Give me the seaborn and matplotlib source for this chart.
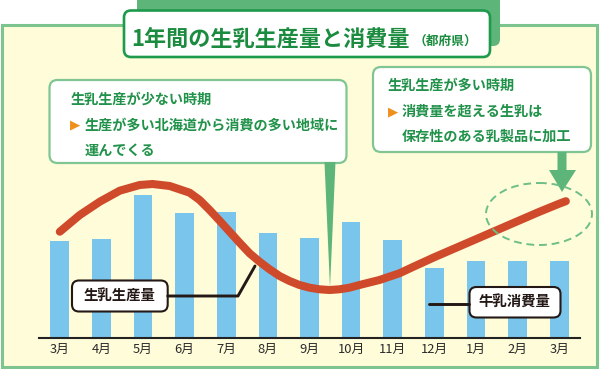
import pandas as pd
import seaborn as sns
import matplotlib.pyplot as plt
from matplotlib.patches import FancyBboxPatch, Rectangle, Ellipse, Polygon

# values (arbitrary units, no y axis in the original)
months = ["3月", "4月", "5月", "6月", "7月", "8月", "9月", "10月", "11月", "12月", "1月", "2月", "3月"]
consumption = [96.7, 99.0, 142.7, 124.3, 125.7, 104.7, 99.3, 115.3, 97.7, 69.7, 76.3, 76.3, 76.3]

# production curve, sampled along the drawn line (x = month position)
prod_x = [0, 0.48, 0.96, 1.44, 1.92, 2.23, 2.64, 3.12, 3.36, 3.6, 3.84, 4.08, 4.32, 4.56,
          4.8, 5.04, 5.28, 5.52, 5.76, 6.0, 6.24, 6.48, 6.72, 6.96, 7.2, 7.68, 8.16,
          8.5, 9, 9.5, 10, 10.5, 11, 11.5, 12, 12.16]
prod_y = [106, 122.7, 136, 147, 152.7, 153.7, 151.7, 145, 137.7, 127.7, 117, 106, 95, 84.4,
          76, 68.4, 61.7, 56.7, 52.7, 50, 48.4, 47.7, 48.4, 50, 52.7, 57.7, 64.4,
          71, 80.5, 89.5, 98.5, 107.5, 116.5, 125.5, 134, 136.5]

title = "1年間の生乳生産量と消費量"
title_sub = "（都府県）"
left_note = ["生乳生産が少ない時期", "生産が多い北海道から消費の多い地域に", "運んでくる"]
right_note = ["生乳生産が多い時期", "消費量を超える生乳は", "保存性のある乳製品に加工"]
label_prod = "生乳生産量"
label_cons = "牛乳消費量"

sns.set_style("white")
plt.rcParams['font.family'] = ['Noto Sans CJK JP', 'DejaVu Sans']

W, H = 600, 369
fig = plt.figure(figsize=(W / 100, H / 100), dpi=100)
fig.patch.set_facecolor("white")

green_dark = "#1e9a4c"
green_mid = "#5db57a"
green_light = "#80c692"
text_green = "#21924a"

# background panel
bg = fig.add_axes([0, 0, 1, 1], zorder=0)
bg.set_xlim(0, W)
bg.set_ylim(H, 0)
bg.axis("off")
bg.add_patch(Rectangle((1.5, 24.5), 595.5, 342.5, facecolor="#fffcd9",
                       edgecolor="#7dc48e", lw=2.2))

# chart area
df = pd.DataFrame({"idx": range(len(months)), "value": consumption})
base_y = 337.7
ax = fig.add_axes([39 / W, (H - base_y) / H, (580 - 39) / W, base_y / H], zorder=1)
ax.patch.set_alpha(0)
sns.barplot(data=df, x="idx", y="value", color="#7ac5ec", saturation=1,
            width=0.45, linewidth=0, ax=ax)
sns.lineplot(x=prod_x, y=prod_y, color="#cf4a2b", lw=5.8,
             solid_capstyle="round", solid_joinstyle="round", ax=ax)
ax.set_xlim(-0.5, 12.5)
ax.set_ylim(0, base_y)
ax.set_xticks(range(len(months)))
ax.set_xticklabels(months, fontsize=9.3, color="#2b2b2b")
ax.tick_params(axis="x", length=0, pad=3.5)
ax.set_yticks([])
ax.set_xlabel("")
ax.set_ylabel("")
for s in ["top", "left", "right"]:
    ax.spines[s].set_visible(False)
ax.spines["bottom"].set_color("#222222")
ax.spines["bottom"].set_linewidth(1.5)

# overlay: title, callouts, labels
ov = fig.add_axes([0, 0, 1, 1], zorder=2)
ov.patch.set_alpha(0)
ov.set_xlim(0, W)
ov.set_ylim(H, 0)
ov.axis("off")

ov.add_patch(FancyBboxPatch((137, -20), 363, 66, boxstyle="round,pad=0,rounding_size=7",
                            facecolor=green_mid, edgecolor="none"))
ov.add_patch(FancyBboxPatch((124, 10.5), 366, 46.5, boxstyle="round,pad=0,rounding_size=7",
                            facecolor="white", edgecolor=green_dark, lw=1.9))
ov.text(131, 39.5, title, fontsize=15.9, fontweight="bold", color="#1b8c3f",
        ha="left", va="center")
ov.text(414, 41, title_sub, fontsize=9.2, fontweight="bold", color="#1b8c3f",
        ha="left", va="center")

# left callout
ov.add_patch(FancyBboxPatch((49.5, 80), 297, 83, boxstyle="round,pad=0,rounding_size=8",
                            facecolor="white", edgecolor=green_light, lw=1.6))
ov.add_patch(Polygon([(324.5, 162), (335.5, 162), (330, 288)], closed=True,
                     facecolor=green_mid, edgecolor="none"))
ov.text(71, 100, left_note[0], fontsize=10.2, fontweight="bold", color=text_green,
        ha="left", va="center")
ov.text(70, 125.3, "▶", fontsize=9.5, color="#ef8f1c", ha="left", va="center",
        family=['DejaVu Sans'])
ov.text(85, 125.3, left_note[1], fontsize=10.2, fontweight="bold", color=text_green,
        ha="left", va="center")
ov.text(85, 150.7, left_note[2], fontsize=10.2, fontweight="bold", color=text_green,
        ha="left", va="center")

# right callout
ov.add_patch(FancyBboxPatch((373, 67), 218, 85, boxstyle="round,pad=0,rounding_size=8",
                            facecolor="white", edgecolor=green_light, lw=1.6))
ov.add_patch(Polygon([(557.5, 152), (566.5, 152), (566.5, 170), (576, 170),
                      (562, 192), (549, 170), (557.5, 170)], closed=True,
                     facecolor=green_mid, edgecolor="none"))
ov.text(388, 86, right_note[0], fontsize=10.2, fontweight="bold", color=text_green,
        ha="left", va="center")
ov.text(388, 111.7, "▶", fontsize=9.5, color="#ef8f1c", ha="left", va="center",
        family=['DejaVu Sans'])
ov.text(402, 111.7, right_note[1], fontsize=10.2, fontweight="bold", color=text_green,
        ha="left", va="center")
ov.text(402, 136.7, right_note[2], fontsize=10.2, fontweight="bold", color=text_green,
        ha="left", va="center")
ov.add_patch(Ellipse((539, 214), 106, 62, facecolor="none", edgecolor="#6dbf87",
                     lw=1.4, ls=(0, (4, 2.5))))

# series labels with leader lines
ov.plot([167.7, 238, 255], [296, 296, 266], color="#231815", lw=2.1)
ov.add_patch(FancyBboxPatch((72, 280.5), 95.7, 31, boxstyle="round,pad=0,rounding_size=7",
                            facecolor="white", edgecolor="#231815", lw=1.5))
ov.text(120, 296.5, label_prod, fontsize=10.4, fontweight="bold", color="#231815",
        ha="center", va="center")

ov.plot([429, 469], [304, 304], color="#231815", lw=2.1)
ov.add_patch(FancyBboxPatch((469.5, 287), 91, 30.5, boxstyle="round,pad=0,rounding_size=7",
                            facecolor="white", edgecolor="#231815", lw=1.5))
ov.text(515, 302.5, label_cons, fontsize=10.4, fontweight="bold", color="#231815",
        ha="center", va="center")

fig.savefig("out.png", dpi=100)
